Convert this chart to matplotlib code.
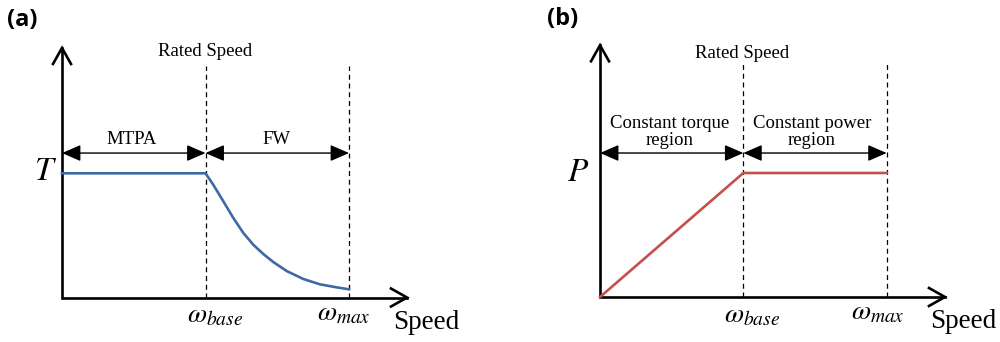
import matplotlib
matplotlib.use("Agg")
import matplotlib.pyplot as plt

plt.rcParams['font.family'] = ['Liberation Serif', 'DejaVu Serif']
plt.rcParams['mathtext.fontset'] = 'stix'

# speed in units of base speed (0 = origin, 1 = base, 2 = max)
w_base = 1.0
w_max = 2.0

# (a) torque vs speed (T = 1)
torque_speed = [0.0, 1.0, 1.054, 1.124, 1.194, 1.264, 1.333, 1.403, 1.472,
                1.566, 1.682, 1.798, 1.914, 2.0]
torque_vals = [1.0, 1.0, 0.908, 0.775, 0.640, 0.519, 0.425, 0.350, 0.286,
               0.213, 0.149, 0.106, 0.082, 0.066]

# (b) power vs speed (P = 1)
power_speed = [0.0, 1.0, 2.0]
power_vals = [0.0, 1.0, 1.0]

blue = '#3F68A6'
red = '#C4504C'

fig = plt.figure(figsize=(10, 3.42), dpi=100)

def setup_panel(rect, xlim, ylim, xtip, ytip, dash_top, arrow_y, ux, uy):
    # ux, uy: pixels per data unit, used to size the open arrow heads
    ax = fig.add_axes(rect)
    ax.set_xlim(*xlim)
    ax.set_ylim(*ylim)
    ax.axis('off')
    kw = dict(color='black', lw=1.9, solid_capstyle='projecting',
              solid_joinstyle='miter')
    ax.plot([0, 0, xtip], [ytip, 0, 0], **kw)
    hl, hw = 16, 9  # head length / half width in pixels
    ax.plot([-hw / ux, 0, hw / ux], [ytip - hl / uy, ytip, ytip - hl / uy], **kw)
    ax.plot([xtip - hl / ux, xtip, xtip - hl / ux], [hw / uy, 0, -hw / uy], **kw)
    # dashed speed markers
    for w in (w_base, w_max):
        ax.plot([w, w], [0, dash_top], color='black', lw=0.9, ls=(0, (4, 3)))
    # region arrows
    region = '<|-|>,head_length=1.15,head_width=0.5'
    for a, b in ((0, w_base), (w_base, w_max)):
        ax.annotate('', xy=(b, arrow_y), xytext=(a, arrow_y),
                    arrowprops=dict(arrowstyle=region, color='black', lw=1.0,
                                    mutation_scale=10, shrinkA=0, shrinkB=0))
    return ax

# ---- (a) torque ----
ax1 = setup_panel([0.0, 0.0, 0.5, 1.0], (-0.432, 3.052), (-0.358, 2.395),
                  2.404, 2.009, 1.864, 1.163, 143.5, 124.2)
ax1.plot(torque_speed, torque_vals, color=blue, lw=1.9)
ax1.text(1.0, 1.98, 'Rated Speed', ha='center', va='center', fontsize=13.5)
ax1.text(0.484, 1.27, 'MTPA', ha='center', va='center', fontsize=13.5)
ax1.text(1.498, 1.27, 'FW', ha='center', va='center', fontsize=13.5)
ax1.text(-0.118, 1.01, '$T$', ha='center', va='center', fontsize=24)
ax1.text(1.066, -0.15, r'$\omega_{base}$', ha='center', va='center', fontsize=20)
ax1.text(1.962, -0.13, r'$\omega_{max}$', ha='center', va='center', fontsize=20)
ax1.text(2.307, -0.2, 'Speed', ha='left', va='center', fontsize=19.5)

# ---- (b) power ----
ax2 = setup_panel([0.5, 0.0, 0.5, 1.0], (-0.698, 2.791), (-0.363, 2.395),
                  2.407, 2.03, 1.887, 1.161, 143.3, 124.0)
ax2.plot(power_speed, power_vals, color=red, lw=1.9)
ax2.text(0.991, 1.965, 'Rated Speed', ha='center', va='center', fontsize=13.5)
ax2.text(0.488, 1.33, 'Constant torque\nregion', ha='center', va='center',
         fontsize=13.5, linespacing=1.0)
ax2.text(1.479, 1.33, 'Constant power\nregion', ha='center', va='center',
         fontsize=13.5, linespacing=1.0)
ax2.text(-0.154, 1.0, '$P$', ha='center', va='center', fontsize=24)
ax2.text(1.061, -0.15, r'$\omega_{base}$', ha='center', va='center', fontsize=20)
ax2.text(1.938, -0.13, r'$\omega_{max}$', ha='center', va='center', fontsize=20)
ax2.text(2.303, -0.2, 'Speed', ha='left', va='center', fontsize=19.5)

# panel labels
fig.text(0.007, 1 - 20 / 342, '(a)', ha='left', va='center', fontsize=17,
         fontweight='bold', family='Open Sans')
fig.text(0.547, 1 - 19 / 342, '(b)', ha='left', va='center', fontsize=17,
         fontweight='bold', family='Open Sans')

fig.savefig('out.png', dpi=100)
